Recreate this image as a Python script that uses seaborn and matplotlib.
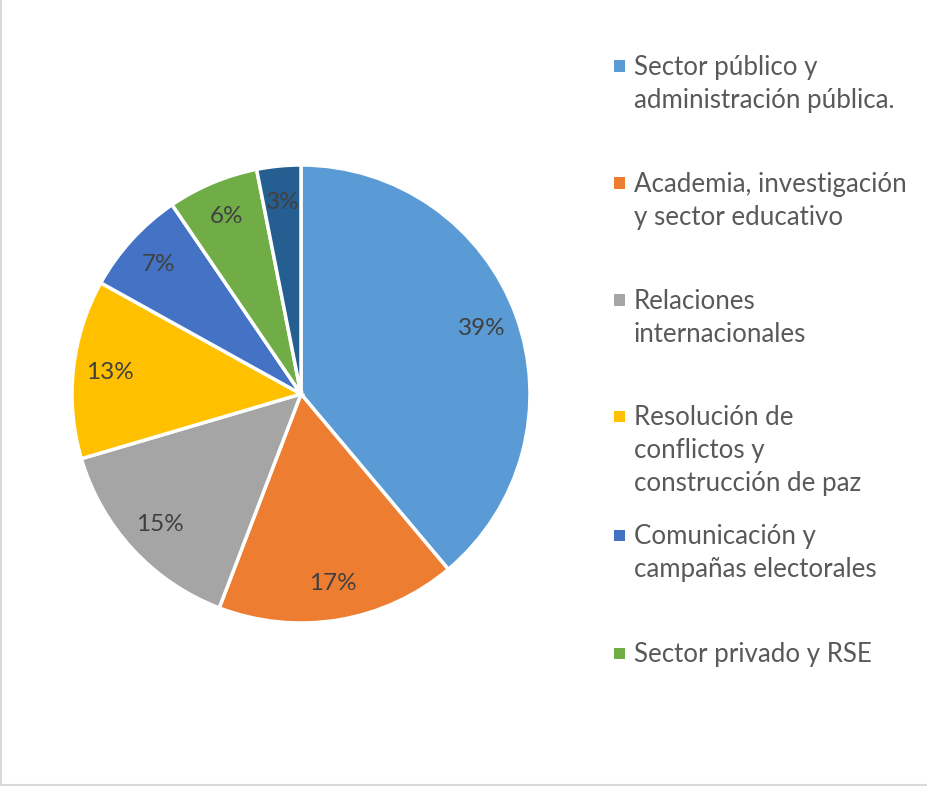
import matplotlib
matplotlib.use("Agg")
import matplotlib.pyplot as plt
import seaborn as sns
from matplotlib.patches import Rectangle
from matplotlib.lines import Line2D

categories = [
    "Sector público y\nadministración pública.",
    "Academia, investigación\ny sector educativo",
    "Relaciones\ninternacionales",
    "Resolución de\nconflictos y\nconstrucción de paz",
    "Comunicación y\ncampañas electorales",
    "Sector privado y RSE",
    "Otros",
]
values = [38.8, 16.9, 14.6, 12.6, 7.4, 6.4, 3.1]
colors = ["#5B9BD5", "#ED7D31", "#A5A5A5", "#FFC000", "#4472C4", "#70AD47", "#255E91"]
legend_shown = 6

sns.set_theme(style="white")
plt.rcParams["font.family"] = ["Lato", "DejaVu Sans"]

W, H = 928, 786
fig = plt.figure(figsize=(W / 100, H / 100), dpi=100)
fig.patch.set_facecolor("white")

cx, cy, r = 301, 394, 229
ax = fig.add_axes([(cx - r) / W, (H - cy - r) / H, 2 * r / W, 2 * r / H])
wedges, texts, autotexts = ax.pie(
    values,
    colors=colors,
    startangle=90,
    counterclock=False,
    radius=1,
    autopct=lambda p: f"{p:.0f}%",
    pctdistance=0.84,
    wedgeprops=dict(edgecolor="white", linewidth=2.5),
    textprops=dict(color="#404040", fontsize=17.5),
)
ax.set_xlim(-1, 1)
ax.set_ylim(-1, 1)
ax.set_aspect("equal")
ax.axis("off")

# legend (manual layout to match slot spacing)
slot_centers = [66, 183, 300, 416, 535, 653]
line_h = 33
for i in range(legend_shown):
    c = slot_centers[i]
    fig.patches.append(Rectangle((614 / W, 1 - (c + 5.5) / H), 11 / W, 11 / H,
                                 transform=fig.transFigure, facecolor=colors[i],
                                 edgecolor="none"))
    for j, line in enumerate(categories[i].split("\n")):
        fig.text(634 / W, 1 - (c + 9 + j * line_h) / H, line, fontsize=18.6,
                 color="#595959", va="baseline", ha="left")

# chart frame
fig.add_artist(Line2D([1.5 / W, 1.5 / W], [0, 1], transform=fig.transFigure,
                      color="#D9D9D9", lw=1.5))
fig.add_artist(Line2D([0, 1], [1.5 / H, 1.5 / H], transform=fig.transFigure,
                      color="#D9D9D9", lw=1.5))

fig.savefig("out.png", dpi=100, facecolor="white")
